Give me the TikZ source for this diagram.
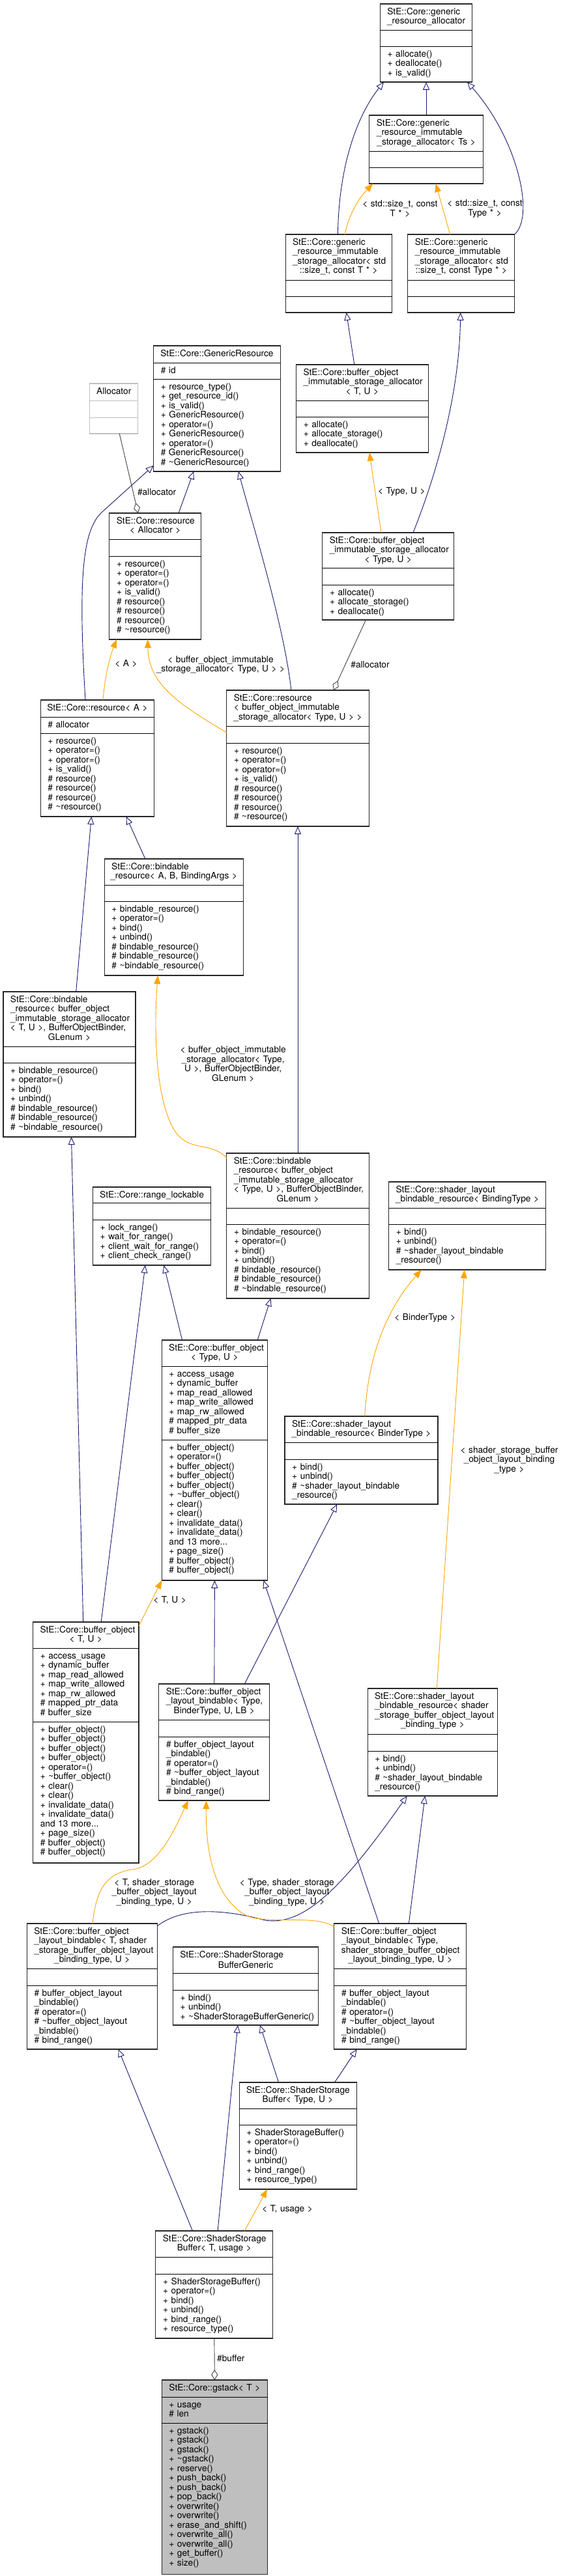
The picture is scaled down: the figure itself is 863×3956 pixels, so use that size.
\documentclass[tikz,border=0pt]{standalone}
\usepackage{fontspec}
\setmainfont{TeX Gyre Heros}
\usepackage{tikz}
\usetikzlibrary{arrows.meta, positioning}
\definecolor{isablue}{HTML}{191970}
\definecolor{tmplorange}{HTML}{FFA500}
\definecolor{usegray}{HTML}{404040}
\definecolor{nodoc}{HTML}{BFBFBF}
\newcommand\lft[1]{\makebox[\hsize][l]{#1}}
\newcommand\ctr[1]{\makebox[\hsize][c]{#1}}
\newcommand\tld{\textasciitilde}
\newcommand\umlfont{\fontsize{13.7}{14.5}\selectfont}

\begin{document}
\begin{tikzpicture}[x=1pt, y=-1pt,
  cls/.style={draw=black!85, line width=1.1pt, fill=white, anchor=north west, inner sep=0pt, outer sep=0pt},
  sep/.style={draw=black, line width=0.9pt},
  ttl/.style={inner sep=0pt, align=left, font=\umlfont, execute at begin node=\strut},
  mem/.style={anchor=north west, inner sep=0pt, text width=260pt, align=left, font=\umlfont, execute at begin node=\strut},
  lbl/.style={inner sep=0pt, text width=260pt, align=center, font=\umlfont, execute at begin node=\strut},
  role/.style={inner sep=0pt, anchor=west, font=\umlfont},
  isa/.style={draw=isablue, line width=0.9pt, -{Triangle[open, length=12pt, width=10pt]}},
  inst/.style={draw=tmplorange, line width=0.9pt, -{Triangle[length=13pt, width=10pt]}},
  uses/.style={draw=usegray, line width=0.9pt, {Diamond[open, length=16pt, width=10pt]}-}]
  \useasboundingbox (0,0) rectangle (863,3956);

  \node[cls, minimum width=141.4pt, minimum height=120pt] (gra) at (583.4,6) {};
  \draw[sep] (583.4,46) -- +(141.4,0) (583.4,71) -- +(141.4,0);
  \node[ttl, text width=119.4pt, below=6pt of gra.north] (graT) {\lft{StE::Core::generic}\\\ctr{\_resource\_allocator}};
  \node[mem] (graM) at (594.4,77) {+ allocate()\\+ deallocate()\\+ is\_valid()};

  \node[cls, minimum width=174.4pt, minimum height=105pt] (grisTs) at (566.9,177) {};
  \draw[sep] (566.9,232) -- +(174.4,0) (566.9,257) -- +(174.4,0);
  \node[ttl, text width=152.4pt, below=6pt of grisTs.north] (grisTsT) {\lft{StE::Core::generic}\\\lft{\_resource\_immutable}\\\ctr{\_storage\_allocator< Ts >}};

  \node[cls, minimum width=163.4pt, minimum height=120pt] (grisT) at (438.1,360) {};
  \draw[sep] (438.1,430) -- +(163.4,0) (438.1,455) -- +(163.4,0);
  \node[ttl, text width=141.4pt, below=6pt of grisT.north] (grisTT) {\lft{StE::Core::generic}\\\lft{\_resource\_immutable}\\\lft{\_storage\_allocator< std}\\\ctr{::size\_t, const T * >}};

  \node[cls, minimum width=164pt, minimum height=120pt] (grisType) at (625.8,360) {};
  \draw[sep] (625.8,430) -- +(164,0) (625.8,455) -- +(164,0);
  \node[ttl, text width=142pt, below=6pt of grisType.north] (grisTypeT) {\lft{StE::Core::generic}\\\lft{\_resource\_immutable}\\\lft{\_storage\_allocator< std}\\\ctr{::size\_t, const Type * >}};

  \node[cls, minimum width=194.8pt, minimum height=193pt] (gres) at (235.6,531) {};
  \draw[sep] (235.6,557) -- +(194.8,0) (235.6,582) -- +(194.8,0);
  \node[ttl, text width=172.8pt, below=6pt of gres.north] (gresT) {\ctr{StE::Core::GenericResource}};
  \node[mem] (gresA) at (246.6,563) {\# id};
  \node[mem] (gresM) at (246.6,588) {+ resource\_type()\\+ get\_resource\_id()\\+ is\_valid()\\+ GenericResource()\\+ operator=()\\+ GenericResource()\\+ operator=()\\\# GenericResource()\\\# \tld GenericResource()};

  \node[cls, draw=nodoc, minimum width=74.3pt, minimum height=77pt] (alloc) at (137.6,589) {};
  \draw[sep, draw=nodoc] (137.6,615) -- +(74.3,0) (137.6,641) -- +(74.3,0);
  \node[ttl, text width=52.3pt, below=6pt of alloc.north] (allocT) {\ctr{Allocator}};

  \node[cls, minimum width=202.5pt, minimum height=135pt] (boisaTU) at (454.6,560) {};
  \draw[sep] (454.6,615) -- +(202.5,0) (454.6,640) -- +(202.5,0);
  \node[ttl, text width=180.5pt, below=6pt of boisaTU.north] (boisaTUT) {\lft{StE::Core::buffer\_object}\\\lft{\_immutable\_storage\_allocator}\\\ctr{< T, U >}};
  \node[mem] (boisaTUM) at (465.6,646) {+ allocate()\\+ allocate\_storage()\\+ deallocate()};

  \node[cls, minimum width=140.8pt, minimum height=194pt] (resAlloc) at (167.9,788) {};
  \draw[sep] (167.9,828) -- +(140.8,0) (167.9,854) -- +(140.8,0);
  \node[ttl, text width=118.8pt, below=6pt of resAlloc.north] (resAllocT) {\lft{StE::Core::resource}\\\ctr{< Allocator >}};
  \node[mem] (resAllocM) at (178.9,860) {+ resource()\\+ operator=()\\+ operator=()\\+ is\_valid()\\\# resource()\\\# resource()\\\# resource()\\\# \tld resource()};

  \node[cls, minimum width=201.9pt, minimum height=134pt] (boisaType) at (494.8,818) {};
  \draw[sep] (494.8,872) -- +(201.9,0) (494.8,898) -- +(201.9,0);
  \node[ttl, text width=179.9pt, below=6pt of boisaType.north] (boisaTypeT) {\lft{StE::Core::buffer\_object}\\\lft{\_immutable\_storage\_allocator}\\\ctr{< Type, U >}};
  \node[mem] (boisaTypeM) at (505.8,904) {+ allocate()\\+ allocate\_storage()\\+ deallocate()};

  \node[cls, minimum width=174.5pt, minimum height=179pt] (resA) at (62.2,1075) {};
  \draw[sep] (62.2,1101) -- +(174.5,0) (62.2,1126) -- +(174.5,0);
  \node[ttl, text width=152.5pt, below=6pt of resA.north] (resAT) {\ctr{StE::Core::resource< A >}};
  \node[mem] (resAA) at (73.2,1107) {\# allocator};
  \node[mem] (resAM) at (73.2,1132) {+ resource()\\+ operator=()\\+ operator=()\\+ is\_valid()\\\# resource()\\\# resource()\\\# resource()\\\# \tld resource()};

  \node[cls, minimum width=218.5pt, minimum height=209pt] (resBo) at (347.8,1060) {};
  \draw[sep] (347.8,1115) -- +(218.5,0) (347.8,1141) -- +(218.5,0);
  \node[ttl, text width=196.5pt, below=6pt of resBo.north] (resBoT) {\lft{StE::Core::resource}\\\lft{< buffer\_object\_immutable}\\\ctr{\_storage\_allocator< Type, U > >}};
  \node[mem] (resBoM) at (358.8,1147) {+ resource()\\+ operator=()\\+ operator=()\\+ is\_valid()\\\# resource()\\\# resource()\\\# resource()\\\# \tld resource()};

  \node[cls, minimum width=212.9pt, minimum height=179pt] (bindABC) at (160.2,1319) {};
  \draw[sep] (160.2,1359) -- +(212.9,0) (160.2,1384) -- +(212.9,0);
  \node[ttl, text width=190.9pt, below=6pt of bindABC.north] (bindABCT) {\lft{StE::Core::bindable}\\\ctr{\_resource< A, B, BindingArgs >}};
  \node[mem] (bindABCM) at (171.2,1390) {+ bindable\_resource()\\+ operator=()\\+ bind()\\+ unbind()\\\# bindable\_resource()\\\# bindable\_resource()\\\# \tld bindable\_resource()};

  \node[cls, minimum width=203pt, minimum height=223pt] (bindTU) at (5,1523) {};
  \draw[sep] (5,1607) -- +(203,0) (5,1632) -- +(203,0);
  \node[ttl, text width=181pt, below=6pt of bindTU.north] (bindTUT) {\lft{StE::Core::bindable}\\\lft{\_resource< buffer\_object}\\\lft{\_immutable\_storage\_allocator}\\\lft{< T, U >, BufferObjectBinder,}\\\ctr{GLenum >}};
  \node[mem] (bindTUM) at (16,1638) {+ bindable\_resource()\\+ operator=()\\+ bind()\\+ unbind()\\\# bindable\_resource()\\\# bindable\_resource()\\\# \tld bindable\_resource()};

  \node[cls, minimum width=218.5pt, minimum height=223pt] (bindType) at (347.8,1771) {};
  \draw[sep] (347.8,1855) -- +(218.5,0) (347.8,1880) -- +(218.5,0);
  \node[ttl, text width=196.5pt, below=6pt of bindType.north] (bindTypeT) {\lft{StE::Core::bindable}\\\lft{\_resource< buffer\_object}\\\lft{\_immutable\_storage\_allocator}\\\lft{< Type, U >, BufferObjectBinder,}\\\ctr{GLenum >}};
  \node[mem] (bindTypeM) at (358.8,1886) {+ bindable\_resource()\\+ operator=()\\+ bind()\\+ unbind()\\\# bindable\_resource()\\\# bindable\_resource()\\\# \tld bindable\_resource()};

  \node[cls, minimum width=181.1pt, minimum height=120pt] (rlock) at (142.5,1823) {};
  \draw[sep] (142.5,1847) -- +(181.1,0) (142.5,1873) -- +(181.1,0);
  \node[ttl, text width=159.1pt, below=6pt of rlock.north] (rlockT) {\ctr{StE::Core::range\_lockable}};
  \node[mem] (rlockM) at (153.5,1879) {+ lock\_range()\\+ wait\_for\_range()\\+ client\_wait\_for\_range()\\+ client\_check\_range()};

  \node[cls, minimum width=241pt, minimum height=135pt] (slbrBT) at (596.6,1815) {};
  \draw[sep] (596.6,1855) -- +(241,0) (596.6,1880) -- +(241,0);
  \node[ttl, text width=219pt, below=6pt of slbrBT.north] (slbrBTT) {\lft{StE::Core::shader\_layout}\\\ctr{\_bindable\_resource< BindingType >}};
  \node[mem] (slbrBTM) at (607.6,1886) {+ bind()\\+ unbind()\\\# \tld shader\_layout\_bindable\\\_resource()};

  \node[cls, minimum width=162.4pt, minimum height=369pt] (boType) at (248.2,2058) {};
  \draw[sep] (248.2,2098) -- +(162.4,0) (248.2,2211) -- +(162.4,0);
  \node[ttl, text width=140.4pt, below=6pt of boType.north] (boTypeT) {\lft{StE::Core::buffer\_object}\\\ctr{< Type, U >}};
  \node[mem] (boTypeA) at (259.2,2104) {+ access\_usage\\+ dynamic\_buffer\\+ map\_read\_allowed\\+ map\_write\_allowed\\+ map\_rw\_allowed\\\# mapped\_ptr\_data\\\# buffer\_size};
  \node[mem] (boTypeM) at (259.2,2217) {+ buffer\_object()\\+ operator=()\\+ buffer\_object()\\+ buffer\_object()\\+ buffer\_object()\\+ \tld buffer\_object()\\+ clear()\\+ clear()\\+ invalidate\_data()\\+ invalidate\_data()\\and 13 more...\\+ page\_size()\\\# buffer\_object()\\\# buffer\_object()};

  \node[cls, minimum width=235pt, minimum height=135pt] (slbrBinder) at (437,2175) {};
  \draw[sep] (437,2215) -- +(235,0) (437,2241) -- +(235,0);
  \node[ttl, text width=213pt, below=6pt of slbrBinder.north] (slbrBinderT) {\lft{StE::Core::shader\_layout}\\\ctr{\_bindable\_resource< BinderType >}};
  \node[mem] (slbrBinderM) at (448,2247) {+ bind()\\+ unbind()\\\# \tld shader\_layout\_bindable\\\_resource()};

  \node[cls, minimum width=162.4pt, minimum height=370pt] (boTU) at (50.6,2491) {};
  \draw[sep] (50.6,2531) -- +(162.4,0) (50.6,2644) -- +(162.4,0);
  \node[ttl, text width=140.4pt, below=6pt of boTU.north] (boTUT) {\lft{StE::Core::buffer\_object}\\\ctr{< T, U >}};
  \node[mem] (boTUA) at (61.6,2537) {+ access\_usage\\+ dynamic\_buffer\\+ map\_read\_allowed\\+ map\_write\_allowed\\+ map\_rw\_allowed\\\# mapped\_ptr\_data\\\# buffer\_size};
  \node[mem] (boTUM) at (61.6,2650) {+ buffer\_object()\\+ buffer\_object()\\+ buffer\_object()\\+ buffer\_object()\\+ operator=()\\+ \tld buffer\_object()\\+ clear()\\+ clear()\\+ invalidate\_data()\\+ invalidate\_data()\\and 13 more...\\+ page\_size()\\\# buffer\_object()\\\# buffer\_object()};

  \node[cls, minimum width=170.1pt, minimum height=179pt] (bolbBinder) at (243.8,2586) {};
  \draw[sep] (243.8,2641) -- +(170.1,0) (243.8,2667) -- +(170.1,0);
  \node[ttl, text width=148.1pt, below=6pt of bolbBinder.north] (bolbBinderT) {\lft{StE::Core::buffer\_object}\\\lft{\_layout\_bindable< Type,}\\\ctr{BinderType, U, LB >}};
  \node[mem] (bolbBinderM) at (254.8,2673) {\# buffer\_object\_layout\\\_bindable()\\\# operator=()\\\# \tld buffer\_object\_layout\\\_bindable()\\\# bind\_range()};

  \node[cls, minimum width=199.8pt, minimum height=165pt] (slbrSS) at (564.1,2593) {};
  \draw[sep] (564.1,2663) -- +(199.8,0) (564.1,2689) -- +(199.8,0);
  \node[ttl, text width=177.8pt, below=6pt of slbrSS.north] (slbrSST) {\lft{StE::Core::shader\_layout}\\\lft{\_bindable\_resource< shader}\\\lft{\_storage\_buffer\_object\_layout}\\\ctr{\_binding\_type >}};
  \node[mem] (slbrSSM) at (575.1,2695) {+ bind()\\+ unbind()\\\# \tld shader\_layout\_bindable\\\_resource()};

  \node[cls, minimum width=199.8pt, minimum height=193pt] (bolbT) at (41.3,2954) {};
  \draw[sep] (41.3,3023) -- +(199.8,0) (41.3,3049) -- +(199.8,0);
  \node[ttl, text width=177.8pt, below=6pt of bolbT.north] (bolbTT) {\lft{StE::Core::buffer\_object}\\\lft{\_layout\_bindable< T, shader}\\\lft{\_storage\_buffer\_object\_layout}\\\ctr{\_binding\_type, U >}};
  \node[mem] (bolbTM) at (52.3,3055) {\# buffer\_object\_layout\\\_bindable()\\\# operator=()\\\# \tld buffer\_object\_layout\\\_bindable()\\\# bind\_range()};

  \node[cls, minimum width=223.4pt, minimum height=120pt] (ssbg) at (265.3,2990) {};
  \draw[sep] (265.3,3030) -- +(223.4,0) (265.3,3056) -- +(223.4,0);
  \node[ttl, text width=201.4pt, below=6pt of ssbg.north] (ssbgT) {\lft{StE::Core::ShaderStorage}\\\ctr{BufferGeneric}};
  \node[mem] (ssbgM) at (276.3,3062) {+ bind()\\+ unbind()\\+ \tld ShaderStorageBufferGeneric()};

  \node[cls, minimum width=202.6pt, minimum height=193pt] (bolbType) at (512.9,2954) {};
  \draw[sep] (512.9,3023) -- +(202.6,0) (512.9,3049) -- +(202.6,0);
  \node[ttl, text width=180.6pt, below=6pt of bolbType.north] (bolbTypeT) {\lft{StE::Core::buffer\_object}\\\lft{\_layout\_bindable< Type,}\\\lft{shader\_storage\_buffer\_object}\\\ctr{\_layout\_binding\_type, U >}};
  \node[mem] (bolbTypeM) at (523.9,3055) {\# buffer\_object\_layout\\\_bindable()\\\# operator=()\\\# \tld buffer\_object\_layout\\\_bindable()\\\# bind\_range()};

  \node[cls, minimum width=180pt, minimum height=164pt] (ssbTypeU) at (367.1,3198) {};
  \draw[sep] (367.1,3238) -- +(180,0) (367.1,3263) -- +(180,0);
  \node[ttl, text width=158pt, below=6pt of ssbTypeU.north] (ssbTypeUT) {\lft{StE::Core::ShaderStorage}\\\ctr{Buffer< Type, U >}};
  \node[mem] (ssbTypeUM) at (378.1,3269) {+ ShaderStorageBuffer()\\+ operator=()\\+ bind()\\+ unbind()\\+ bind\_range()\\+ resource\_type()};

  \node[cls, minimum width=179.9pt, minimum height=165pt] (ssbTusage) at (238.9,3426) {};
  \draw[sep] (238.9,3466) -- +(179.9,0) (238.9,3492) -- +(179.9,0);
  \node[ttl, text width=157.9pt, below=6pt of ssbTusage.north] (ssbTusageT) {\lft{StE::Core::ShaderStorage}\\\ctr{Buffer< T, usage >}};
  \node[mem] (ssbTusageM) at (249.9,3498) {+ ShaderStorageBuffer()\\+ operator=()\\+ bind()\\+ unbind()\\+ bind\_range()\\+ resource\_type()};

  \node[cls, fill=nodoc, minimum width=162.4pt, minimum height=298pt] (gstack) at (248.2,3655) {};
  \draw[sep] (248.2,3681) -- +(162.4,0) (248.2,3721) -- +(162.4,0);
  \node[ttl, text width=140.4pt, below=6pt of gstack.north] (gstackT) {\ctr{StE::Core::gstack< T >}};
  \node[mem] (gstackA) at (259.2,3687) {+ usage\\\# len};
  \node[mem] (gstackM) at (259.2,3727) {+ gstack()\\+ gstack()\\+ gstack()\\+ \tld gstack()\\+ reserve()\\+ push\_back()\\+ push\_back()\\+ pop\_back()\\+ overwrite()\\+ overwrite()\\+ erase\_and\_shift()\\+ overwrite\_all()\\+ overwrite\_all()\\+ get\_buffer()\\+ size()};

  \draw[isa] (grisT.north -| 518.4,0) .. controls (520,250) and (550,175) .. (gra.south -| 588.9,0);
  \draw[isa] (grisTs.north) -- (gra.south);
  \draw[isa] (grisType.north east) .. controls (822,330) and (792,210) .. (gra.south -| 717,0);
  \draw[isa] (boisaTU.north -| 543.8,0) -- (grisT.south -| 531.6,0);
  \draw[isa] (boisaType.north -| 634,0) .. controls (673,720) and (705,600) .. (grisType.south -| 706.7,0);
  \draw[isa] (resAlloc.north -| 274.1,0) -- (gres.south -| 297.2,0);
  \draw[isa] (resA.north -| 131,0) .. controls (119,880) and (128,812) .. (157,786) -- ([yshift=9pt]gres.south west);
  \draw[isa] (resBo.north -| 446.9,0) .. controls (436,960) and (386,800) .. (gres.south -| 366,0);
  \draw[isa] (bindABC.north -| 222.9,0) -- (resA.south -| 193.7,0);
  \draw[isa] (bindTU.north -| 116.7,0) -- (resA.south -| 140.3,0);
  \draw[isa] (bindType.north) -- (resBo.south);
  \draw[isa] (boType.north -| 279.6,0) -- (rlock.south -| 251.5,0);
  \draw[isa] (boType.north -| 395.2,0) -- (bindType.south -| 415.5,0);
  \draw[isa] (boTU.north -| 155.2,0) -- (rlock.south -| 222.9,0);
  \draw[isa] (boTU.north -| 127.7,0) -- (bindTU.south -| 109.5,0);
  \draw[isa] (bolbBinder.north) -- (boType.south);
  \draw[isa] (bolbBinder.north -| 375.3,0) -- (slbrBinder.south -| 517.3,0);
  \draw[isa] (bolbType.north -| 581.7,0) -- (boType.south -| 404.5,0);
  \draw[isa] (bolbType.north -| 627.4,0) -- (slbrSS.south -| 652.2,0);
  \draw[isa] (bolbT.east |- 0,2958) .. controls (277,2930) and (337,2930) .. (407,2949) .. controls (466,2958) and (525,2900) .. (slbrSS.south -| 624.7,0);
  \draw[isa] (ssbTypeU.north -| 427.6,0) -- (ssbg.south -| 399,0);
  \draw[isa] (ssbTypeU.north -| 513.5,0) -- (bolbType.south -| 547.6,0);
  \draw[isa] (ssbTusage.north -| 295.5,0) -- (bolbT.south -| 181.6,0);
  \draw[isa] (ssbTusage.north -| 334.1,0) -- (ssbg.south -| 364.9,0);

  \draw[inst] (grisT.north -| 529.4,0) .. controls (535,330) and (550,305) .. (grisTs.south -| 572.4,0);
  \draw[inst] (grisType.north -| 690.7,0) -- (grisTs.south -| 668.7,0);
  \draw[inst] (boisaType.north -| 585,0) -- (boisaTU.south -| 566.9,0);
  \draw[inst] (resA.north -| 158,0) .. controls (161,1040) and (168,1010) .. (resAlloc.south -| 178.9,0);
  \draw[inst] (resBo.west |- 0,1125) .. controls (272,1080) and (228,1050) .. (resAlloc.south -| 226.7,0);
  \draw[inst] (bindType.west |- 0,1778) .. controls (322,1752) and (292,1770) .. (269,1738) .. controls (238,1690) and (236,1580) .. (bindABC.south -| 242.2,0);
  \draw[inst] (slbrBinder.north -| 559.7,0) .. controls (565,2080) and (594,2010) .. (slbrBT.south -| 646.7,0);
  \draw[inst] (slbrSS.north -| 670.3,0) -- (slbrBT.south -| 712.7,0);
  \draw[inst] (boTU.east |- 0,2497) -- (boType.south west);
  \draw[inst] (bolbT.north -| 142,0) .. controls (148,2900) and (163,2875) .. (209,2870) .. controls (248,2860) and (272,2800) .. (bolbBinder.south -| 288.9,0);
  \draw[inst] (bolbType.west |- 0,2959) .. controls (485,2940) and (416,2955) .. (381,2943) .. controls (342,2925) and (315,2870) .. (bolbBinder.south -| 316.5,0);
  \draw[inst] (ssbTusage.north -| 375.3,0) -- (ssbTypeU.south -| 410,0);

  \draw[uses] (resAlloc.north -| 211.9,0) -- (alloc.south -| 183.3,0);
  \draw[uses] (resBo.north -| 511.8,0) -- (boisaType.south -| 561.4,0);
  \draw[uses] (gstack.north) -- (ssbTusage.south);

  \node[lbl] (grisTlbl) at (613.9,320.5) {< std::size\_t, const\\T * >};
  \node[lbl] (grisTypelbl) at (744,320.5) {< std::size\_t, const\\Type * >};
  \node[lbl] (boisalbl) at (616.4,756) {< Type, U >};
  \node[lbl] (resAlbl) at (193.5,1021) {< A >};
  \node[lbl] (resBolbl) at (338.5,1021) {< buffer\_object\_immutable\\\_storage\_allocator< Type, U > >};
  \node[lbl] (bindlbl) at (357.7,1634) {< buffer\_object\_immutable\\\_storage\_allocator< Type,\\U >, BufferObjectBinder,\\GLenum >};
  \node[lbl] (slbrlbl) at (652.2,2025) {< BinderType >};
  \node[lbl] (slbrSSlbl) at (781.5,2242) {< shader\_storage\_buffer\\\_object\_layout\_binding\\\_type >};
  \node[lbl] (boTUlbl) at (260.6,2459) {< T, U >};
  \node[lbl] (bolbTlbl) at (236.7,2906) {< T, shader\_storage\\\_buffer\_object\_layout\\\_binding\_type, U >};
  \node[lbl] (bolbTypelbl) at (440.3,2906) {< Type, shader\_storage\\\_buffer\_object\_layout\\\_binding\_type, U >};
  \node[lbl] (ssblbl) at (441,3394) {< T, usage >};
  \node[role] (allocrole) at (210.8,756) {\#allocator};
  \node[role] (boallocrole) at (538.2,1021) {\#allocator};
  \node[role] (bufrole) at (333,3622) {\#buffer};
\end{tikzpicture}
\end{document}
